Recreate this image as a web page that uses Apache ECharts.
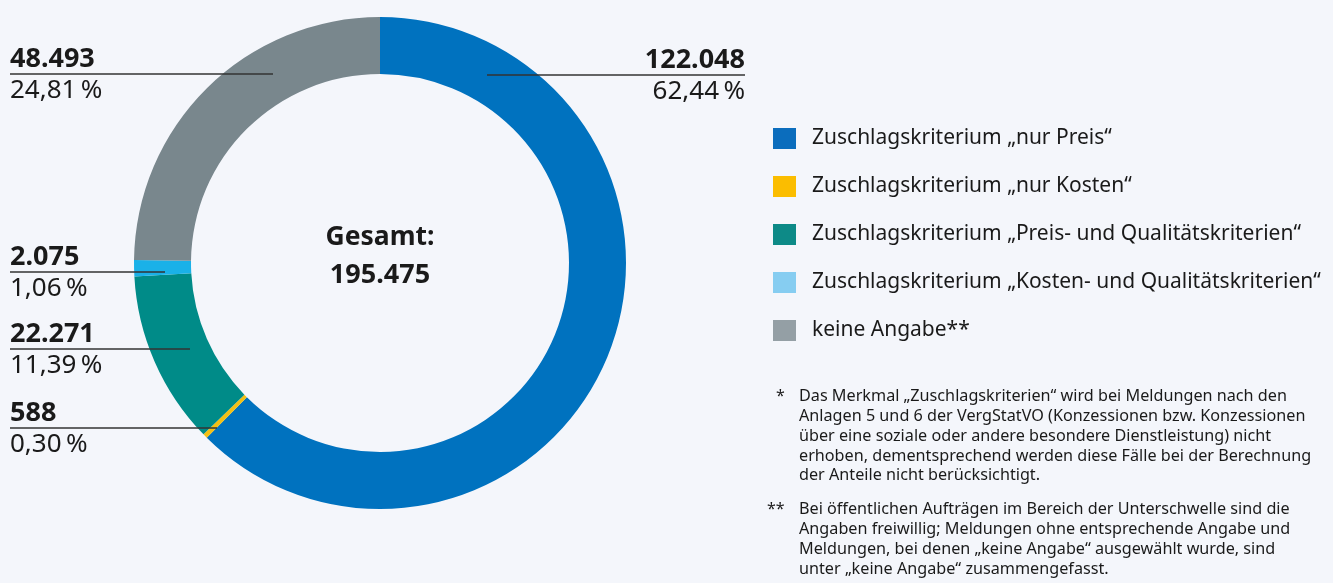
<!DOCTYPE html>
<html>
<head>
<meta charset="utf-8">
<script src="https://cdn.jsdelivr.net/npm/echarts@6/dist/echarts.min.js"></script>
<style>
html,body{margin:0;padding:0;background:#f4f6fb;}
#c{width:1333px;height:583px;}
</style>
</head>
<body>
<div id="c"></div>
<script>
// ---- data ----
const categories = [
  'Zuschlagskriterium „nur Preis“',
  'Zuschlagskriterium „nur Kosten“',
  'Zuschlagskriterium „Preis- und Qualitätskriterien“',
  'Zuschlagskriterium „Kosten- und Qualitätskriterien“',
  'keine Angabe**'
];
const values = [122048, 588, 22271, 2075, 48493];
const totalLabel = 'Gesamt:';
const footnote1 = [
  'Das Merkmal „Zuschlagskriterien“ wird bei Meldungen nach den',
  'Anlagen 5 und 6 der VergStatVO (Konzessionen bzw. Konzessionen',
  'über eine soziale oder andere besondere Dienstleistung) nicht',
  'erhoben, dementsprechend werden diese Fälle bei der Berechnung',
  'der Anteile nicht berücksichtigt.'
];
const footnote2 = [
  'Bei öffentlichen Aufträgen im Bereich der Unterschwelle sind die',
  'Angaben freiwillig; Meldungen ohne entsprechende Angabe und',
  'Meldungen, bei denen „keine Angabe“ ausgewählt wurde, sind',
  'unter „keine Angabe“ zusammengefasst.'
];

// ---- styles / layout ----
const sliceColors  = ['#0072bf', '#f2c014', '#008b88', '#1ab1e8', '#79878d'];
const legendColors = ['#0b6dbd', '#fbbd00', '#0d8a87', '#86cdf1', '#949fa5'];
const lineY    = [75, 428, 349, 272, 74];
const lineInX  = [487, 217, 190, 165, 273];
const labelX   = [745, 10, 10, 10, 10];
const labelAlign = ['right', 'left', 'left', 'left', 'left'];

const total = values.reduce((a, b) => a + b, 0);
function fmtInt(n) { return String(n).replace(/\B(?=(\d{3})+(?!\d))/g, '.'); }
function fmtPct(v) { return (v / total * 100).toFixed(2).replace('.', ',') + '\u202F%'; }

const FONT = '"Noto Sans", "Open Sans", sans-serif';
const chart = echarts.init(document.getElementById('c'), null, {renderer: 'canvas'});

const leaderLines = values.map((v, i) => ({
  type: 'line', silent: true, z: 100,
  shape: {x1: Math.min(labelX[i], lineInX[i]), y1: lineY[i], x2: Math.max(labelX[i], lineInX[i]), y2: lineY[i]},
  style: {stroke: '#333333', lineWidth: 1.6}
}));

chart.setOption({
  backgroundColor: '#f4f6fb',
  animation: false,
  textStyle: {fontFamily: FONT},
  legend: {
    orient: 'vertical',
    left: 773,
    top: 128,
    padding: 0,
    itemWidth: 23,
    itemHeight: 21,
    itemGap: 27,
    icon: 'rect',
    selectedMode: false,
    textStyle: {fontFamily: FONT, fontSize: 21, color: '#1a1a1a', lineHeight: 21, padding: [0, 0, 0, 11]},
    data: categories.map((c, i) => ({name: c, itemStyle: {color: legendColors[i]}}))
  },
  series: [{
    type: 'pie',
    center: [380, 263],
    radius: [189, 246],
    startAngle: 90,
    clockwise: true,
    avoidLabelOverlap: false,
    silent: true,
    itemStyle: {borderWidth: 0},
    label: {
      show: true,
      position: 'outside',
      fontFamily: FONT,
      formatter: p => '{v|' + fmtInt(p.value) + '}\n{p|' + fmtPct(p.value) + '}',
      rich: {
        v: {fontFamily: FONT, fontSize: 27, fontWeight: 'bold', color: '#1a1a1a', lineHeight: 32},
        p: {fontFamily: FONT, fontSize: 26, color: '#1a1a1a', lineHeight: 32}
      }
    },
    labelLine: {show: false},
    labelLayout: function (params) {
      const i = params.dataIndex;
      return {
        x: labelX[i],
        y: lineY[i] + 1,
        align: labelAlign[i],
        verticalAlign: 'middle'
      };
    },
    data: categories.map((c, i) => ({name: c, value: values[i], itemStyle: {color: sliceColors[i]}}))
  }],
  graphic: leaderLines.concat([
    {type: 'text', x: 380, y: 237, silent: true, z: 100,
     style: {text: totalLabel, fontFamily: FONT, fontSize: 26.5, fontWeight: 'bold', fill: '#1a1a1a', align: 'center', verticalAlign: 'middle'}},
    {type: 'text', x: 380, y: 275, silent: true, z: 100,
     style: {text: fmtInt(total), fontFamily: FONT, fontSize: 27, fontWeight: 'bold', fill: '#1a1a1a', align: 'center', verticalAlign: 'middle'}},
    {type: 'text', x: 776, y: 387, silent: true,
     style: {text: '*', fontFamily: FONT, fontSize: 16, fill: '#1a1a1a', lineHeight: 19.7, verticalAlign: 'top'}},
    {type: 'text', x: 799, y: 387, silent: true,
     style: {text: footnote1.join('\n'), fontFamily: FONT, fontSize: 16.2, fill: '#1a1a1a', lineHeight: 19.7, verticalAlign: 'top'}},
    {type: 'text', x: 767, y: 500, silent: true,
     style: {text: '**', fontFamily: FONT, fontSize: 16, fill: '#1a1a1a', lineHeight: 19.7, verticalAlign: 'top'}},
    {type: 'text', x: 799, y: 500, silent: true,
     style: {text: footnote2.join('\n'), fontFamily: FONT, fontSize: 16.2, fill: '#1a1a1a', lineHeight: 19.7, verticalAlign: 'top'}}
  ])
});
</script>
</body>
</html>
